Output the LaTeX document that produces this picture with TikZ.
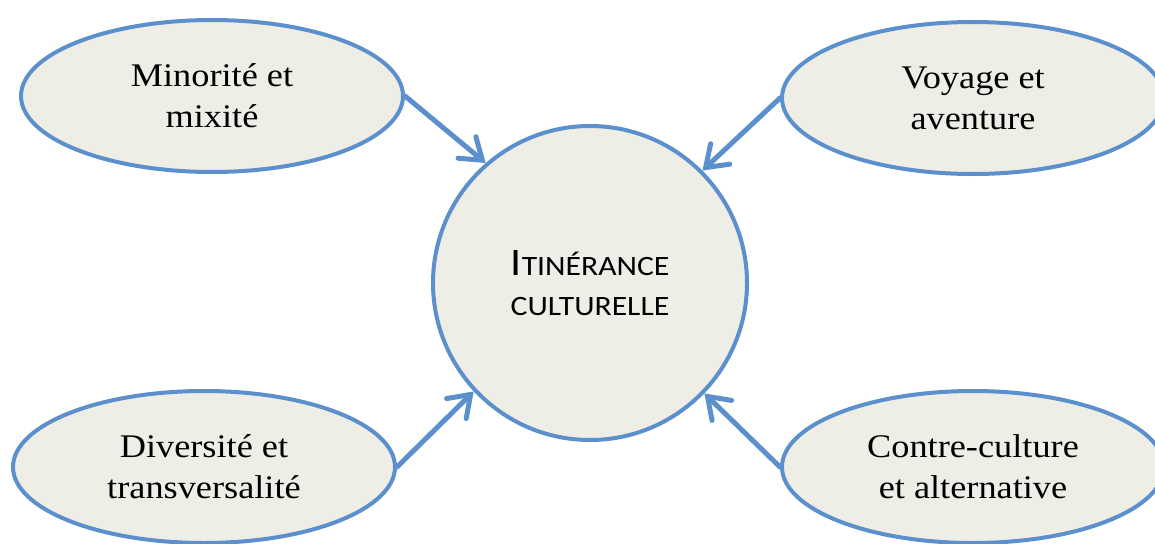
\documentclass[tikz,border=0pt]{standalone}
\usepackage{fontspec}
\setmainfont{Liberation Serif}[FakeStretch=1.1]
\newfontfamily\calib{Carlito}[FakeStretch=1.13]
\usetikzlibrary{shapes.geometric,arrows.meta}
\definecolor{bdr}{RGB}{91,144,204}
\definecolor{fil}{RGB}{239,238,230}
\tikzset{
  topic/.style={ellipse, draw=bdr, fill=fil, line width=4pt, minimum width=382pt, minimum height=152pt, inner sep=0pt, align=center, font=\fontsize{33}{41}\selectfont},
  hub/.style={circle, draw=bdr, fill=fil, line width=4pt, minimum size=314pt, inner sep=0pt, align=center, font=\calib\fontsize{28}{40}\selectfont},
  link/.style={draw=bdr, line width=5pt, line cap=round, -{Straight Barb[length=20pt,width=28pt,line width=5pt,line cap=round]}}
}
\begin{document}
\begin{tikzpicture}[x=1pt,y=-1pt]
\useasboundingbox (0,0) rectangle (1155,543);
\node[topic] (tl) at (212,96) {Minorité et\\mixité};
\node[topic] (tr) at (973,98) {Voyage et\\aventure};
\node[topic] (bl) at (204,467) {Diversité et\\transversalité};
\node[topic] (br) at (973,467) {Contre-culture\\et alternative};
\node[hub] (c) at (590,283) {{\fontsize{39}{40}\selectfont I}TINÉRANCE\\CULTURELLE};
\draw[link] (tl.east) -- (c.131);
\draw[link] (tr.west) -- (c.45);
\draw[link] (br.west) -- (c.-44);
\draw[link] (bl.east) -- (c.-137);
\end{tikzpicture}
\end{document}
